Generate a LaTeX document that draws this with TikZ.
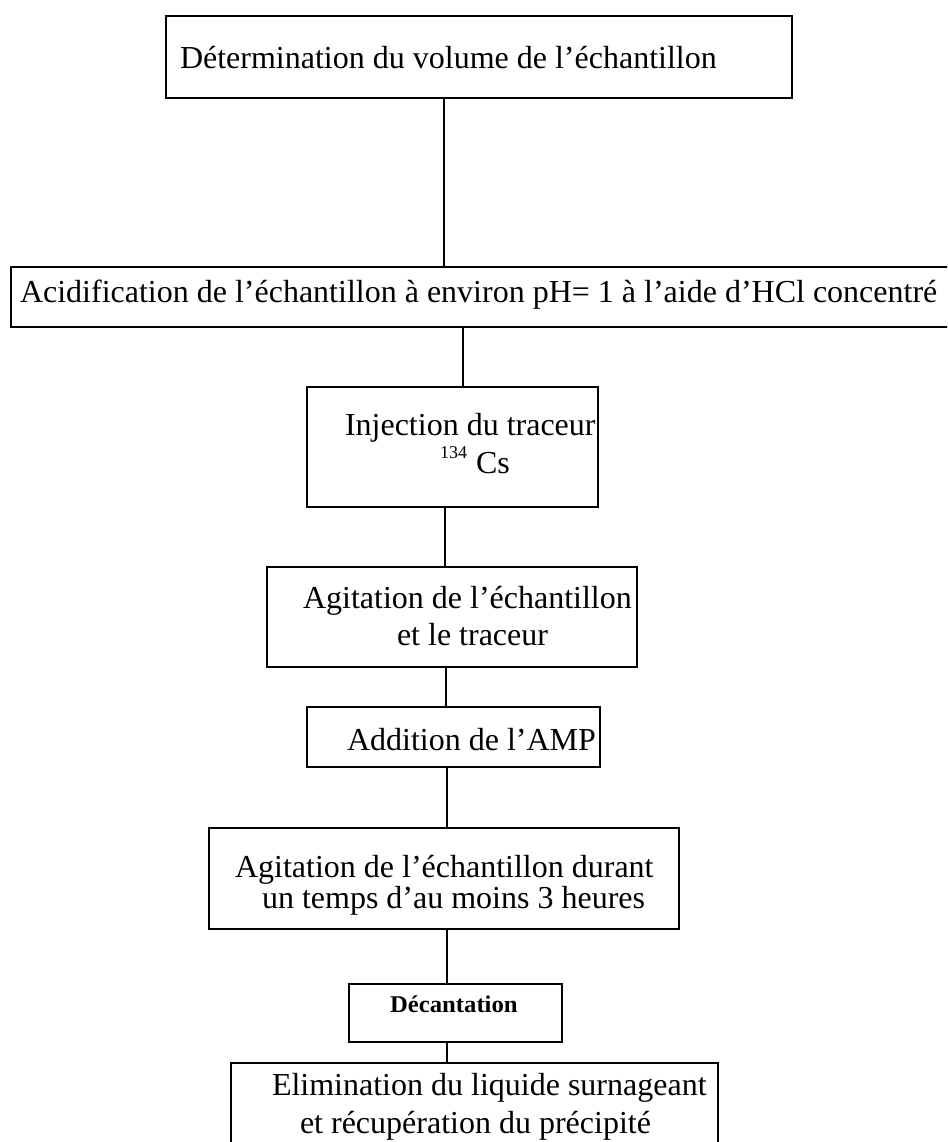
\documentclass[tikz,border=0pt]{standalone}
\usepackage{fontspec}
\setmainfont{Liberation Serif}
\begin{document}
\begin{tikzpicture}[x=1pt,y=-1pt,
  box/.style={draw=black, line width=1.6pt, rectangle, inner sep=0pt, outer sep=0pt, anchor=north west},
  txt/.style={anchor=base west, inner sep=0pt, outer sep=0pt, font=\fontsize{32}{38}\selectfont},
  link/.style={draw=black, line width=1.4pt}]
\useasboundingbox (0,0) rectangle (947,1142);
\clip (0,0) rectangle (947,1142);
\fill[white] (0,0) rectangle (947,1142);
% boxes
\node[box, minimum width=626pt, minimum height=82pt] (b1) at (166,16) {};
\node[box, minimum width=960pt, minimum height=60pt] (b2) at (11,267) {};
\node[box, minimum width=291pt, minimum height=120pt] (b3) at (307,387) {};
\node[box, minimum width=370pt, minimum height=100pt] (b4) at (267,567) {};
\node[box, minimum width=293pt, minimum height=60pt] (b5) at (307,707) {};
\node[box, minimum width=470pt, minimum height=101pt] (b6) at (209,828) {};
\node[box, minimum width=213pt, minimum height=58pt] (b7) at (349,984) {};
\node[box, minimum width=487pt, minimum height=110pt] (b8) at (231,1063) {};
% texts
\node[txt] (t1) at (180,69) {Détermination du volume de l’échantillon};
\node[txt] (t2) at (20,302) {Acidification de l’échantillon à environ pH= 1 à l’aide d’HCl concentré};
\node[txt] (t3a) at (345,435) {Injection du traceur};
\node[txt] (t3b) at (440,473) {\raisebox{15pt}{\fontsize{18}{20}\selectfont 134}\hspace{9pt}Cs};
\node[txt] (t4a) at (303,608) {Agitation de l’échantillon};
\node[txt] (t4b) at (397,645) {et le traceur};
\node[txt] (t5) at (347,750) {Addition de l’AMP};
\node[txt] (t6a) at (235,877) {Agitation de l’échantillon durant};
\node[txt] (t6b) at (262,908) {un temps d’au moins 3 heures};
\node[txt, font=\fontsize{24}{28}\selectfont\bfseries] (t7) at (390,1012) {\scalebox{1.03}[1]{Décantation}};
\node[txt] (t8a) at (272,1095) {Elimination du liquide surnageant};
\node[txt] (t8b) at (300,1133) {et récupération du précipité};
% connector positions
\coordinate (k1) at (444,0);
\coordinate (k2) at (463,0);
\coordinate (k3) at (445,0);
\coordinate (k4) at (446,0);
\coordinate (k5) at (447,0);
\draw[link] (b1.south -| k1) -- (b2.north -| k1);
\draw[link] (b2.south -| k2) -- (b3.north -| k2);
\draw[link] (b3.south -| k3) -- (b4.north -| k3);
\draw[link] (b4.south -| k4) -- (b5.north -| k4);
\draw[link] (b5.south -| k5) -- (b6.north -| k5);
\draw[link] (b6.south -| k5) -- (b7.north -| k5);
\draw[link] (b7.south -| k5) -- (b8.north -| k5);
\end{tikzpicture}
\end{document}
